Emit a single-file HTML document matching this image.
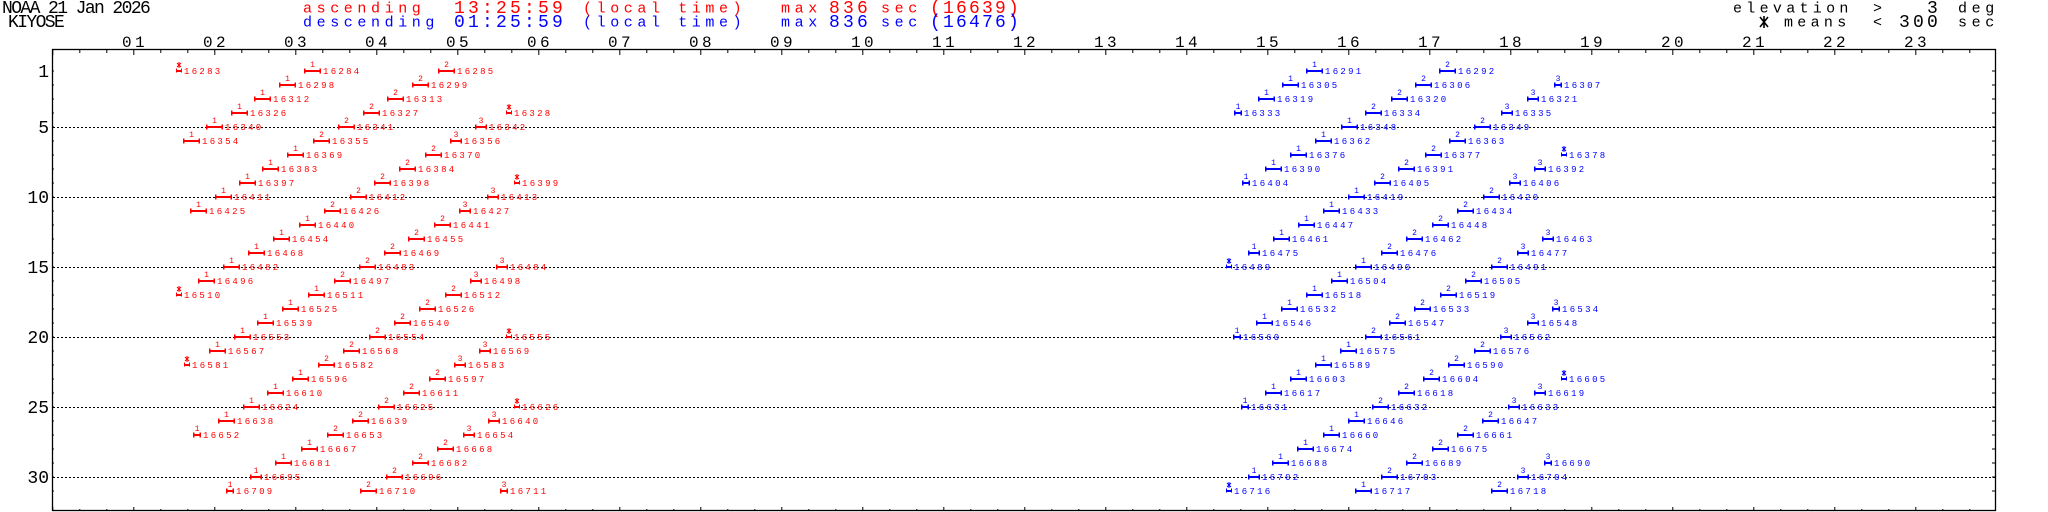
<!DOCTYPE html>
<html><head><meta charset="utf-8">
<style>
html,body{margin:0;padding:0;background:#fff;}
svg{display:block;}
text{font-family:"Liberation Mono",monospace;}
.l{font-size:9px;letter-spacing:2.3px;}
.n{font-size:8px;text-anchor:middle;}
.s{font-size:15px;letter-spacing:4.6px;}
.b{font-size:18px;letter-spacing:3.2px;}
.h{font-size:16px;letter-spacing:3.4px;text-anchor:middle;}
.y{font-size:18px;text-anchor:end;}
.R{fill:#f00;color:#f00;}
.B{fill:#00f;color:#00f;}
</style></head><body>
<svg width="2048" height="512" viewBox="0 0 2048 512" xmlns="http://www.w3.org/2000/svg">
<defs>
<g id="a"><rect x="0" y="-1" width="17" height="2"/><rect x="0" y="-2.5" width="1.5" height="5"/><rect x="15.5" y="-2.5" width="1.5" height="5"/></g>
<g id="c"><rect x="0" y="-1" width="12" height="2"/><rect x="0" y="-2.5" width="1.5" height="5"/><rect x="10.5" y="-2.5" width="1.5" height="5"/></g>
<g id="e"><rect x="0" y="-1" width="8" height="2"/><rect x="0" y="-2.5" width="1.5" height="5"/><rect x="6.5" y="-2.5" width="1.5" height="5"/></g>
<g id="x"><rect x="0" y="-1" width="6" height="2"/><rect x="0" y="-2.5" width="1" height="4"/><rect x="5" y="-2.5" width="1" height="4"/><path d="M1,-8L5,-4M5,-8L1,-4M3,-9V-3" stroke="currentColor" stroke-width="1" fill="none"/></g>
<pattern id="pt" x="52.3" y="0" width="81" height="10" patternUnits="userSpaceOnUse"><rect x="0" y="0" width="1" height="5" fill="#000"/><rect x="27" y="0" width="1" height="3" fill="#000"/><rect x="54" y="0" width="1" height="3" fill="#000"/></pattern>
<pattern id="pb" x="52.3" y="502" width="81" height="10" patternUnits="userSpaceOnUse"><rect x="0" y="5" width="1" height="5" fill="#000"/><rect x="27" y="7" width="1" height="3" fill="#000"/><rect x="54" y="7" width="1" height="3" fill="#000"/></pattern>
<pattern id="pl" x="0" y="70.5" width="10" height="14" patternUnits="userSpaceOnUse"><rect x="0" y="0" width="4" height="1" fill="#000"/></pattern>
<pattern id="pr" x="1990" y="70.5" width="10" height="14" patternUnits="userSpaceOnUse"><rect x="2" y="0" width="4" height="1" fill="#000"/></pattern>
</defs>

<!-- header -->
<text x="2" y="13" style="font-size:18px;letter-spacing:-1.6px">NOAA 21 Jan 2026</text>
<text x="8" y="27" style="font-size:18px;letter-spacing:-1.6px">KIYOSE</text>

<g class="R">
<text class="s" x="303" y="12.3">ascending</text>
<text class="b" x="454" y="13">13:25:59</text>
<text class="s" x="583" y="12.3">(local time)</text>
<text class="s" x="781" y="12.3">max</text>
<text class="b" x="829" y="13">836</text>
<text class="s" x="881" y="12.3">sec</text>
<text class="b" x="930" y="13" style="letter-spacing:2.2px">(16639)</text>
</g>
<g class="B">
<text class="s" x="303" y="26.5">descending</text>
<text class="b" x="454" y="27">01:25:59</text>
<text class="s" x="583" y="26.5">(local time)</text>
<text class="s" x="781" y="26.5">max</text>
<text class="b" x="829" y="27">836</text>
<text class="s" x="881" y="26.5">sec</text>
<text class="b" x="930" y="27" style="letter-spacing:2.2px">(16476)</text>
</g>
<text class="s" x="1733" y="12.3" style="letter-spacing:4.3px">elevation</text>
<text class="s" x="1873" y="12.3">&gt;</text>
<text class="b" x="1927" y="13">3</text>
<text class="s" x="1958" y="12.3">deg</text>
<path d="M1760,17L1768,27M1768,17L1760,27M1764,16V28" stroke="#000" stroke-width="1.6" fill="none"/>
<text class="s" x="1784" y="26.5" style="letter-spacing:4.3px">means</text>
<text class="s" x="1873" y="26.5">&lt;</text>
<text class="b" x="1899" y="27">300</text>
<text class="s" x="1958" y="26.5">sec</text>

<!-- hour labels -->
<g>
<text class="h" x="135" y="47">01</text><text class="h" x="216" y="47">02</text><text class="h" x="297" y="47">03</text><text class="h" x="378" y="47">04</text><text class="h" x="459" y="47">05</text><text class="h" x="540" y="47">06</text><text class="h" x="621" y="47">07</text><text class="h" x="702" y="47">08</text><text class="h" x="783" y="47">09</text><text class="h" x="864" y="47">10</text><text class="h" x="945" y="47">11</text><text class="h" x="1026" y="47">12</text><text class="h" x="1107" y="47">13</text><text class="h" x="1188" y="47">14</text><text class="h" x="1269" y="47">15</text><text class="h" x="1350" y="47">16</text><text class="h" x="1431" y="47">17</text><text class="h" x="1512" y="47">18</text><text class="h" x="1593" y="47">19</text><text class="h" x="1674" y="47">20</text><text class="h" x="1755" y="47">21</text><text class="h" x="1836" y="47">22</text><text class="h" x="1917" y="47">23</text>
</g>
<!-- y labels -->
<text class="y" x="49" y="77">1</text>
<text class="y" x="49" y="133">5</text>
<text class="y" x="49" y="203">10</text>
<text class="y" x="49" y="273">15</text>
<text class="y" x="49" y="343">20</text>
<text class="y" x="49" y="413">25</text>
<text class="y" x="49" y="483">30</text>

<!-- frame & ticks -->
<rect x="53" y="50" width="1942" height="5" fill="url(#pt)"/>
<rect x="53" y="502" width="1942" height="8" fill="url(#pb)"/>
<rect x="53" y="60" width="5" height="440" fill="url(#pl)" transform="translate(0,0)"/>
<rect x="1990" y="60" width="6" height="440" fill="url(#pr)"/>
<rect x="52.5" y="49.5" width="1943" height="461" fill="none" stroke="#000" stroke-width="1.3"/>
<g stroke="#000" stroke-width="1" stroke-dasharray="2,2">
<line x1="53" x2="1995" y1="127.5" y2="127.5"/>
<line x1="53" x2="1995" y1="197.5" y2="197.5"/>
<line x1="53" x2="1995" y1="267.5" y2="267.5"/>
<line x1="53" x2="1995" y1="337.5" y2="337.5"/>
<line x1="53" x2="1995" y1="407.5" y2="407.5"/>
<line x1="53" x2="1995" y1="477.5" y2="477.5"/>
</g>

<!-- RED ascending -->
<g class="R">
<g transform="translate(176,71)"><use href="#x"/><text class="l" x="8" y="3">16283</text></g>
<g transform="translate(304,71)"><use href="#a"/><text class="n" x="8.5" y="-4">1</text><text class="l" x="19" y="3">16284</text></g>
<g transform="translate(438,71)"><use href="#a"/><text class="n" x="8.5" y="-4">2</text><text class="l" x="19" y="3">16285</text></g>
<g transform="translate(279,85)"><use href="#a"/><text class="n" x="8.5" y="-4">1</text><text class="l" x="19" y="3">16298</text></g>
<g transform="translate(412,85)"><use href="#a"/><text class="n" x="8.5" y="-4">2</text><text class="l" x="19" y="3">16299</text></g>
<g transform="translate(254,99)"><use href="#a"/><text class="n" x="8.5" y="-4">1</text><text class="l" x="19" y="3">16312</text></g>
<g transform="translate(387,99)"><use href="#a"/><text class="n" x="8.5" y="-4">2</text><text class="l" x="19" y="3">16313</text></g>
<g transform="translate(231,113)"><use href="#a"/><text class="n" x="8.5" y="-4">1</text><text class="l" x="19" y="3">16326</text></g>
<g transform="translate(363,113)"><use href="#a"/><text class="n" x="8.5" y="-4">2</text><text class="l" x="19" y="3">16327</text></g>
<g transform="translate(506,113)"><use href="#x"/><text class="l" x="8" y="3">16328</text></g>
<g transform="translate(206,127)"><use href="#a"/><text class="n" x="8.5" y="-4">1</text><text class="l" x="19" y="3">16340</text></g>
<g transform="translate(338,127)"><use href="#a"/><text class="n" x="8.5" y="-4">2</text><text class="l" x="19" y="3">16341</text></g>
<g transform="translate(475,127)"><use href="#c"/><text class="n" x="6" y="-4">3</text><text class="l" x="14" y="3">16342</text></g>
<g transform="translate(183,141)"><use href="#a"/><text class="n" x="8.5" y="-4">1</text><text class="l" x="19" y="3">16354</text></g>
<g transform="translate(313,141)"><use href="#a"/><text class="n" x="8.5" y="-4">2</text><text class="l" x="19" y="3">16355</text></g>
<g transform="translate(450,141)"><use href="#c"/><text class="n" x="6" y="-4">3</text><text class="l" x="14" y="3">16356</text></g>
<g transform="translate(287,155)"><use href="#a"/><text class="n" x="8.5" y="-4">1</text><text class="l" x="19" y="3">16369</text></g>
<g transform="translate(425,155)"><use href="#a"/><text class="n" x="8.5" y="-4">2</text><text class="l" x="19" y="3">16370</text></g>
<g transform="translate(262,169)"><use href="#a"/><text class="n" x="8.5" y="-4">1</text><text class="l" x="19" y="3">16383</text></g>
<g transform="translate(399,169)"><use href="#a"/><text class="n" x="8.5" y="-4">2</text><text class="l" x="19" y="3">16384</text></g>
<g transform="translate(239,183)"><use href="#a"/><text class="n" x="8.5" y="-4">1</text><text class="l" x="19" y="3">16397</text></g>
<g transform="translate(374,183)"><use href="#a"/><text class="n" x="8.5" y="-4">2</text><text class="l" x="19" y="3">16398</text></g>
<g transform="translate(514,183)"><use href="#x"/><text class="l" x="8" y="3">16399</text></g>
<g transform="translate(215,197)"><use href="#a"/><text class="n" x="8.5" y="-4">1</text><text class="l" x="19" y="3">16411</text></g>
<g transform="translate(350,197)"><use href="#a"/><text class="n" x="8.5" y="-4">2</text><text class="l" x="19" y="3">16412</text></g>
<g transform="translate(487,197)"><use href="#c"/><text class="n" x="6" y="-4">3</text><text class="l" x="14" y="3">16413</text></g>
<g transform="translate(190,211)"><use href="#a"/><text class="n" x="8.5" y="-4">1</text><text class="l" x="19" y="3">16425</text></g>
<g transform="translate(324,211)"><use href="#a"/><text class="n" x="8.5" y="-4">2</text><text class="l" x="19" y="3">16426</text></g>
<g transform="translate(459,211)"><use href="#c"/><text class="n" x="6" y="-4">3</text><text class="l" x="14" y="3">16427</text></g>
<g transform="translate(299,225)"><use href="#a"/><text class="n" x="8.5" y="-4">1</text><text class="l" x="19" y="3">16440</text></g>
<g transform="translate(434,225)"><use href="#a"/><text class="n" x="8.5" y="-4">2</text><text class="l" x="19" y="3">16441</text></g>
<g transform="translate(273,239)"><use href="#a"/><text class="n" x="8.5" y="-4">1</text><text class="l" x="19" y="3">16454</text></g>
<g transform="translate(408,239)"><use href="#a"/><text class="n" x="8.5" y="-4">2</text><text class="l" x="19" y="3">16455</text></g>
<g transform="translate(248,253)"><use href="#a"/><text class="n" x="8.5" y="-4">1</text><text class="l" x="19" y="3">16468</text></g>
<g transform="translate(384,253)"><use href="#a"/><text class="n" x="8.5" y="-4">2</text><text class="l" x="19" y="3">16469</text></g>
<g transform="translate(223,267)"><use href="#a"/><text class="n" x="8.5" y="-4">1</text><text class="l" x="19" y="3">16482</text></g>
<g transform="translate(359,267)"><use href="#a"/><text class="n" x="8.5" y="-4">2</text><text class="l" x="19" y="3">16483</text></g>
<g transform="translate(496,267)"><use href="#c"/><text class="n" x="6" y="-4">3</text><text class="l" x="14" y="3">16484</text></g>
<g transform="translate(198,281)"><use href="#a"/><text class="n" x="8.5" y="-4">1</text><text class="l" x="19" y="3">16496</text></g>
<g transform="translate(334,281)"><use href="#a"/><text class="n" x="8.5" y="-4">2</text><text class="l" x="19" y="3">16497</text></g>
<g transform="translate(470,281)"><use href="#c"/><text class="n" x="6" y="-4">3</text><text class="l" x="14" y="3">16498</text></g>
<g transform="translate(176,295)"><use href="#x"/><text class="l" x="8" y="3">16510</text></g>
<g transform="translate(308,295)"><use href="#a"/><text class="n" x="8.5" y="-4">1</text><text class="l" x="19" y="3">16511</text></g>
<g transform="translate(445,295)"><use href="#a"/><text class="n" x="8.5" y="-4">2</text><text class="l" x="19" y="3">16512</text></g>
<g transform="translate(282,309)"><use href="#a"/><text class="n" x="8.5" y="-4">1</text><text class="l" x="19" y="3">16525</text></g>
<g transform="translate(419,309)"><use href="#a"/><text class="n" x="8.5" y="-4">2</text><text class="l" x="19" y="3">16526</text></g>
<g transform="translate(257,323)"><use href="#a"/><text class="n" x="8.5" y="-4">1</text><text class="l" x="19" y="3">16539</text></g>
<g transform="translate(394,323)"><use href="#a"/><text class="n" x="8.5" y="-4">2</text><text class="l" x="19" y="3">16540</text></g>
<g transform="translate(234,337)"><use href="#a"/><text class="n" x="8.5" y="-4">1</text><text class="l" x="19" y="3">16553</text></g>
<g transform="translate(369,337)"><use href="#a"/><text class="n" x="8.5" y="-4">2</text><text class="l" x="19" y="3">16554</text></g>
<g transform="translate(506,337)"><use href="#x"/><text class="l" x="8" y="3">16555</text></g>
<g transform="translate(209,351)"><use href="#a"/><text class="n" x="8.5" y="-4">1</text><text class="l" x="19" y="3">16567</text></g>
<g transform="translate(343,351)"><use href="#a"/><text class="n" x="8.5" y="-4">2</text><text class="l" x="19" y="3">16568</text></g>
<g transform="translate(479,351)"><use href="#c"/><text class="n" x="6" y="-4">3</text><text class="l" x="14" y="3">16569</text></g>
<g transform="translate(184,365)"><use href="#x"/><text class="l" x="8" y="3">16581</text></g>
<g transform="translate(318,365)"><use href="#a"/><text class="n" x="8.5" y="-4">2</text><text class="l" x="19" y="3">16582</text></g>
<g transform="translate(454,365)"><use href="#c"/><text class="n" x="6" y="-4">3</text><text class="l" x="14" y="3">16583</text></g>
<g transform="translate(292,379)"><use href="#a"/><text class="n" x="8.5" y="-4">1</text><text class="l" x="19" y="3">16596</text></g>
<g transform="translate(429,379)"><use href="#a"/><text class="n" x="8.5" y="-4">2</text><text class="l" x="19" y="3">16597</text></g>
<g transform="translate(267,393)"><use href="#a"/><text class="n" x="8.5" y="-4">1</text><text class="l" x="19" y="3">16610</text></g>
<g transform="translate(403,393)"><use href="#a"/><text class="n" x="8.5" y="-4">2</text><text class="l" x="19" y="3">16611</text></g>
<g transform="translate(243,407)"><use href="#a"/><text class="n" x="8.5" y="-4">1</text><text class="l" x="19" y="3">16624</text></g>
<g transform="translate(378,407)"><use href="#a"/><text class="n" x="8.5" y="-4">2</text><text class="l" x="19" y="3">16625</text></g>
<g transform="translate(514,407)"><use href="#x"/><text class="l" x="8" y="3">16626</text></g>
<g transform="translate(218,421)"><use href="#a"/><text class="n" x="8.5" y="-4">1</text><text class="l" x="19" y="3">16638</text></g>
<g transform="translate(352,421)"><use href="#a"/><text class="n" x="8.5" y="-4">2</text><text class="l" x="19" y="3">16639</text></g>
<g transform="translate(488,421)"><use href="#c"/><text class="n" x="6" y="-4">3</text><text class="l" x="14" y="3">16640</text></g>
<g transform="translate(193,435)"><use href="#e"/><text class="n" x="4" y="-4">1</text><text class="l" x="10" y="3">16652</text></g>
<g transform="translate(327,435)"><use href="#a"/><text class="n" x="8.5" y="-4">2</text><text class="l" x="19" y="3">16653</text></g>
<g transform="translate(463,435)"><use href="#c"/><text class="n" x="6" y="-4">3</text><text class="l" x="14" y="3">16654</text></g>
<g transform="translate(301,449)"><use href="#a"/><text class="n" x="8.5" y="-4">1</text><text class="l" x="19" y="3">16667</text></g>
<g transform="translate(437,449)"><use href="#a"/><text class="n" x="8.5" y="-4">2</text><text class="l" x="19" y="3">16668</text></g>
<g transform="translate(275,463)"><use href="#a"/><text class="n" x="8.5" y="-4">1</text><text class="l" x="19" y="3">16681</text></g>
<g transform="translate(412,463)"><use href="#a"/><text class="n" x="8.5" y="-4">2</text><text class="l" x="19" y="3">16682</text></g>
<g transform="translate(250,477)"><use href="#c"/><text class="n" x="6" y="-4">1</text><text class="l" x="14" y="3">16695</text></g>
<g transform="translate(386,477)"><use href="#a"/><text class="n" x="8.5" y="-4">2</text><text class="l" x="19" y="3">16696</text></g>
<g transform="translate(226,491)"><use href="#e"/><text class="n" x="4" y="-4">1</text><text class="l" x="10" y="3">16709</text></g>
<g transform="translate(360,491)"><use href="#a"/><text class="n" x="8.5" y="-4">2</text><text class="l" x="19" y="3">16710</text></g>
<g transform="translate(500,491)"><use href="#e"/><text class="n" x="4" y="-4">3</text><text class="l" x="10" y="3">16711</text></g>
</g>

<!-- BLUE descending -->
<g class="B">
<g transform="translate(1306,71)"><use href="#a"/><text class="n" x="8.5" y="-4">1</text><text class="l" x="19" y="3">16291</text></g>
<g transform="translate(1439,71)"><use href="#a"/><text class="n" x="8.5" y="-4">2</text><text class="l" x="19" y="3">16292</text></g>
<g transform="translate(1282,85)"><use href="#a"/><text class="n" x="8.5" y="-4">1</text><text class="l" x="19" y="3">16305</text></g>
<g transform="translate(1415,85)"><use href="#a"/><text class="n" x="8.5" y="-4">2</text><text class="l" x="19" y="3">16306</text></g>
<g transform="translate(1554,85)"><use href="#e"/><text class="n" x="4" y="-4">3</text><text class="l" x="10" y="3">16307</text></g>
<g transform="translate(1258,99)"><use href="#a"/><text class="n" x="8.5" y="-4">1</text><text class="l" x="19" y="3">16319</text></g>
<g transform="translate(1391,99)"><use href="#a"/><text class="n" x="8.5" y="-4">2</text><text class="l" x="19" y="3">16320</text></g>
<g transform="translate(1527,99)"><use href="#c"/><text class="n" x="6" y="-4">3</text><text class="l" x="14" y="3">16321</text></g>
<g transform="translate(1234,113)"><use href="#e"/><text class="n" x="4" y="-4">1</text><text class="l" x="10" y="3">16333</text></g>
<g transform="translate(1365,113)"><use href="#a"/><text class="n" x="8.5" y="-4">2</text><text class="l" x="19" y="3">16334</text></g>
<g transform="translate(1501,113)"><use href="#c"/><text class="n" x="6" y="-4">3</text><text class="l" x="14" y="3">16335</text></g>
<g transform="translate(1341,127)"><use href="#a"/><text class="n" x="8.5" y="-4">1</text><text class="l" x="19" y="3">16348</text></g>
<g transform="translate(1474,127)"><use href="#a"/><text class="n" x="8.5" y="-4">2</text><text class="l" x="19" y="3">16349</text></g>
<g transform="translate(1315,141)"><use href="#a"/><text class="n" x="8.5" y="-4">1</text><text class="l" x="19" y="3">16362</text></g>
<g transform="translate(1449,141)"><use href="#a"/><text class="n" x="8.5" y="-4">2</text><text class="l" x="19" y="3">16363</text></g>
<g transform="translate(1290,155)"><use href="#a"/><text class="n" x="8.5" y="-4">1</text><text class="l" x="19" y="3">16376</text></g>
<g transform="translate(1425,155)"><use href="#a"/><text class="n" x="8.5" y="-4">2</text><text class="l" x="19" y="3">16377</text></g>
<g transform="translate(1561,155)"><use href="#x"/><text class="l" x="8" y="3">16378</text></g>
<g transform="translate(1265,169)"><use href="#a"/><text class="n" x="8.5" y="-4">1</text><text class="l" x="19" y="3">16390</text></g>
<g transform="translate(1398,169)"><use href="#a"/><text class="n" x="8.5" y="-4">2</text><text class="l" x="19" y="3">16391</text></g>
<g transform="translate(1534,169)"><use href="#c"/><text class="n" x="6" y="-4">3</text><text class="l" x="14" y="3">16392</text></g>
<g transform="translate(1242,183)"><use href="#e"/><text class="n" x="4" y="-4">1</text><text class="l" x="10" y="3">16404</text></g>
<g transform="translate(1374,183)"><use href="#a"/><text class="n" x="8.5" y="-4">2</text><text class="l" x="19" y="3">16405</text></g>
<g transform="translate(1509,183)"><use href="#c"/><text class="n" x="6" y="-4">3</text><text class="l" x="14" y="3">16406</text></g>
<g transform="translate(1348,197)"><use href="#a"/><text class="n" x="8.5" y="-4">1</text><text class="l" x="19" y="3">16419</text></g>
<g transform="translate(1483,197)"><use href="#a"/><text class="n" x="8.5" y="-4">2</text><text class="l" x="19" y="3">16420</text></g>
<g transform="translate(1323,211)"><use href="#a"/><text class="n" x="8.5" y="-4">1</text><text class="l" x="19" y="3">16433</text></g>
<g transform="translate(1457,211)"><use href="#a"/><text class="n" x="8.5" y="-4">2</text><text class="l" x="19" y="3">16434</text></g>
<g transform="translate(1298,225)"><use href="#a"/><text class="n" x="8.5" y="-4">1</text><text class="l" x="19" y="3">16447</text></g>
<g transform="translate(1432,225)"><use href="#a"/><text class="n" x="8.5" y="-4">2</text><text class="l" x="19" y="3">16448</text></g>
<g transform="translate(1273,239)"><use href="#a"/><text class="n" x="8.5" y="-4">1</text><text class="l" x="19" y="3">16461</text></g>
<g transform="translate(1406,239)"><use href="#a"/><text class="n" x="8.5" y="-4">2</text><text class="l" x="19" y="3">16462</text></g>
<g transform="translate(1542,239)"><use href="#c"/><text class="n" x="6" y="-4">3</text><text class="l" x="14" y="3">16463</text></g>
<g transform="translate(1248,253)"><use href="#c"/><text class="n" x="6" y="-4">1</text><text class="l" x="14" y="3">16475</text></g>
<g transform="translate(1381,253)"><use href="#a"/><text class="n" x="8.5" y="-4">2</text><text class="l" x="19" y="3">16476</text></g>
<g transform="translate(1517,253)"><use href="#c"/><text class="n" x="6" y="-4">3</text><text class="l" x="14" y="3">16477</text></g>
<g transform="translate(1226,267)"><use href="#x"/><text class="l" x="8" y="3">16489</text></g>
<g transform="translate(1355,267)"><use href="#a"/><text class="n" x="8.5" y="-4">1</text><text class="l" x="19" y="3">16490</text></g>
<g transform="translate(1491,267)"><use href="#a"/><text class="n" x="8.5" y="-4">2</text><text class="l" x="19" y="3">16491</text></g>
<g transform="translate(1331,281)"><use href="#a"/><text class="n" x="8.5" y="-4">1</text><text class="l" x="19" y="3">16504</text></g>
<g transform="translate(1465,281)"><use href="#a"/><text class="n" x="8.5" y="-4">2</text><text class="l" x="19" y="3">16505</text></g>
<g transform="translate(1306,295)"><use href="#a"/><text class="n" x="8.5" y="-4">1</text><text class="l" x="19" y="3">16518</text></g>
<g transform="translate(1440,295)"><use href="#a"/><text class="n" x="8.5" y="-4">2</text><text class="l" x="19" y="3">16519</text></g>
<g transform="translate(1281,309)"><use href="#a"/><text class="n" x="8.5" y="-4">1</text><text class="l" x="19" y="3">16532</text></g>
<g transform="translate(1414,309)"><use href="#a"/><text class="n" x="8.5" y="-4">2</text><text class="l" x="19" y="3">16533</text></g>
<g transform="translate(1552,309)"><use href="#e"/><text class="n" x="4" y="-4">3</text><text class="l" x="10" y="3">16534</text></g>
<g transform="translate(1256,323)"><use href="#a"/><text class="n" x="8.5" y="-4">1</text><text class="l" x="19" y="3">16546</text></g>
<g transform="translate(1389,323)"><use href="#a"/><text class="n" x="8.5" y="-4">2</text><text class="l" x="19" y="3">16547</text></g>
<g transform="translate(1527,323)"><use href="#c"/><text class="n" x="6" y="-4">3</text><text class="l" x="14" y="3">16548</text></g>
<g transform="translate(1233,337)"><use href="#e"/><text class="n" x="4" y="-4">1</text><text class="l" x="10" y="3">16560</text></g>
<g transform="translate(1365,337)"><use href="#a"/><text class="n" x="8.5" y="-4">2</text><text class="l" x="19" y="3">16561</text></g>
<g transform="translate(1500,337)"><use href="#c"/><text class="n" x="6" y="-4">3</text><text class="l" x="14" y="3">16562</text></g>
<g transform="translate(1340,351)"><use href="#a"/><text class="n" x="8.5" y="-4">1</text><text class="l" x="19" y="3">16575</text></g>
<g transform="translate(1474,351)"><use href="#a"/><text class="n" x="8.5" y="-4">2</text><text class="l" x="19" y="3">16576</text></g>
<g transform="translate(1315,365)"><use href="#a"/><text class="n" x="8.5" y="-4">1</text><text class="l" x="19" y="3">16589</text></g>
<g transform="translate(1448,365)"><use href="#a"/><text class="n" x="8.5" y="-4">2</text><text class="l" x="19" y="3">16590</text></g>
<g transform="translate(1290,379)"><use href="#a"/><text class="n" x="8.5" y="-4">1</text><text class="l" x="19" y="3">16603</text></g>
<g transform="translate(1423,379)"><use href="#a"/><text class="n" x="8.5" y="-4">2</text><text class="l" x="19" y="3">16604</text></g>
<g transform="translate(1561,379)"><use href="#x"/><text class="l" x="8" y="3">16605</text></g>
<g transform="translate(1265,393)"><use href="#a"/><text class="n" x="8.5" y="-4">1</text><text class="l" x="19" y="3">16617</text></g>
<g transform="translate(1398,393)"><use href="#a"/><text class="n" x="8.5" y="-4">2</text><text class="l" x="19" y="3">16618</text></g>
<g transform="translate(1534,393)"><use href="#c"/><text class="n" x="6" y="-4">3</text><text class="l" x="14" y="3">16619</text></g>
<g transform="translate(1241,407)"><use href="#e"/><text class="n" x="4" y="-4">1</text><text class="l" x="10" y="3">16631</text></g>
<g transform="translate(1372,407)"><use href="#a"/><text class="n" x="8.5" y="-4">2</text><text class="l" x="19" y="3">16632</text></g>
<g transform="translate(1508,407)"><use href="#c"/><text class="n" x="6" y="-4">3</text><text class="l" x="14" y="3">16633</text></g>
<g transform="translate(1348,421)"><use href="#a"/><text class="n" x="8.5" y="-4">1</text><text class="l" x="19" y="3">16646</text></g>
<g transform="translate(1482,421)"><use href="#a"/><text class="n" x="8.5" y="-4">2</text><text class="l" x="19" y="3">16647</text></g>
<g transform="translate(1323,435)"><use href="#a"/><text class="n" x="8.5" y="-4">1</text><text class="l" x="19" y="3">16660</text></g>
<g transform="translate(1457,435)"><use href="#a"/><text class="n" x="8.5" y="-4">2</text><text class="l" x="19" y="3">16661</text></g>
<g transform="translate(1297,449)"><use href="#a"/><text class="n" x="8.5" y="-4">1</text><text class="l" x="19" y="3">16674</text></g>
<g transform="translate(1432,449)"><use href="#a"/><text class="n" x="8.5" y="-4">2</text><text class="l" x="19" y="3">16675</text></g>
<g transform="translate(1272,463)"><use href="#a"/><text class="n" x="8.5" y="-4">1</text><text class="l" x="19" y="3">16688</text></g>
<g transform="translate(1406,463)"><use href="#a"/><text class="n" x="8.5" y="-4">2</text><text class="l" x="19" y="3">16689</text></g>
<g transform="translate(1544,463)"><use href="#e"/><text class="n" x="4" y="-4">3</text><text class="l" x="10" y="3">16690</text></g>
<g transform="translate(1248,477)"><use href="#c"/><text class="n" x="6" y="-4">1</text><text class="l" x="14" y="3">16702</text></g>
<g transform="translate(1381,477)"><use href="#a"/><text class="n" x="8.5" y="-4">2</text><text class="l" x="19" y="3">16703</text></g>
<g transform="translate(1517,477)"><use href="#c"/><text class="n" x="6" y="-4">3</text><text class="l" x="14" y="3">16704</text></g>
<g transform="translate(1226,491)"><use href="#x"/><text class="l" x="8" y="3">16716</text></g>
<g transform="translate(1355,491)"><use href="#a"/><text class="n" x="8.5" y="-4">1</text><text class="l" x="19" y="3">16717</text></g>
<g transform="translate(1491,491)"><use href="#a"/><text class="n" x="8.5" y="-4">2</text><text class="l" x="19" y="3">16718</text></g>
</g>
</svg>
</body></html>
